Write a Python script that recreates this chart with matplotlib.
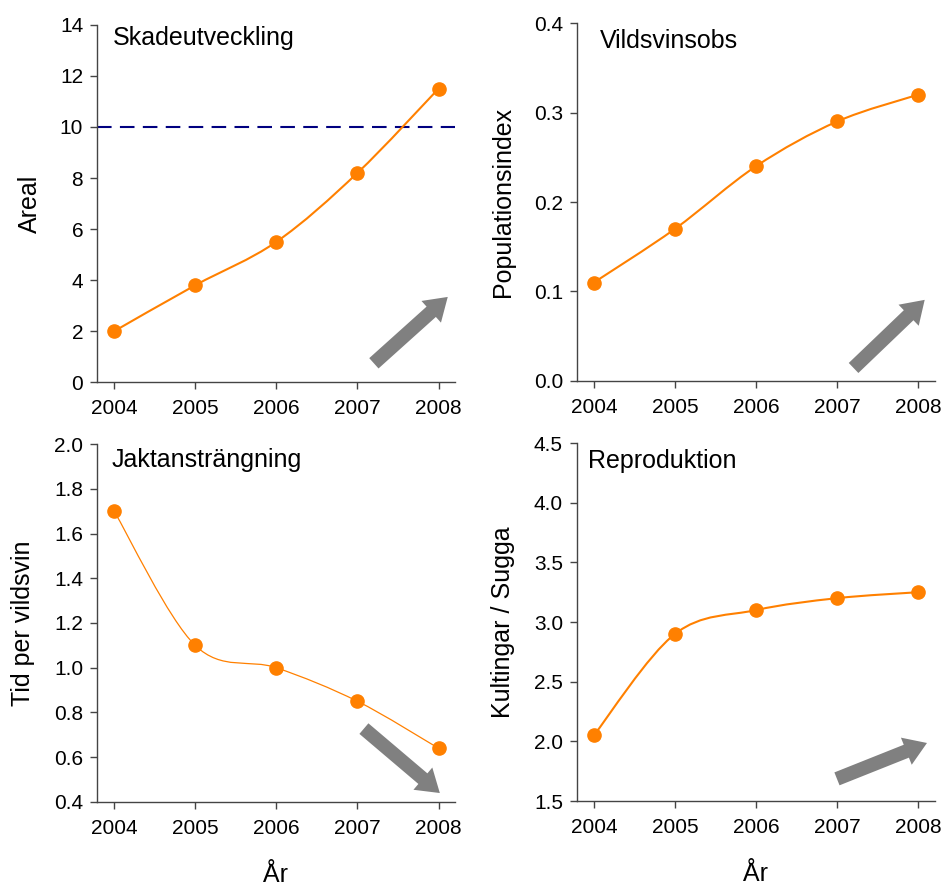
"""Vildsvin: skadeutveckling, obs, jaktansträngning och reproduktion 2004-2008."""

import matplotlib

matplotlib.use("Agg")
import matplotlib.pyplot as plt
from matplotlib.patches import FancyArrowPatch, PathPatch
from matplotlib.path import Path

years = [2004, 2005, 2006, 2007, 2008]

skada = [2.0, 3.8, 5.5, 8.2, 11.5]
skada_limit = 10
vildsvinsobs = [0.11, 0.17, 0.24, 0.29, 0.32]
jakt = [1.70, 1.10, 1.00, 0.85, 0.64]
reproduktion = [2.05, 2.90, 3.10, 3.20, 3.25]

ORANGE = "#FF8000"
GREY = "#808080"
NAVY = "#000080"

plt.rcParams["font.family"] = ["Liberation Sans", "DejaVu Sans"]


def smooth_path(xs, ys):
    """Excel-style smoothed line as cubic Bezier segments through the points."""
    pts = list(zip(xs, ys))
    n = len(pts)
    verts = [pts[0]]
    codes = [Path.MOVETO]
    for i in range(n - 1):
        p0 = pts[max(i - 1, 0)]
        p1 = pts[i]
        p2 = pts[i + 1]
        p3 = pts[min(i + 2, n - 1)]
        c1 = (p1[0] + (p2[0] - p0[0]) / 6, p1[1] + (p2[1] - p0[1]) / 6)
        c2 = (p2[0] - (p3[0] - p1[0]) / 6, p2[1] - (p3[1] - p1[1]) / 6)
        verts += [c1, c2, p2]
        codes += [Path.CURVE4] * 3
    return Path(verts, codes)


def panel(ax, values, title, title_pos, ylabel, ylim, yticks, yfmt, arrow, lw=1.5):
    ax.add_patch(
        PathPatch(smooth_path(years, values), fill=False, edgecolor=ORANGE,
                  linewidth=lw, zorder=3)
    )
    ax.plot(years, values, "o", color=ORANGE, markersize=9.5, zorder=4)

    ax.set_xlim(2003.79, 2008.2)
    ax.set_ylim(*ylim)
    ax.set_xticks(years)
    ax.set_yticks(yticks)
    ax.set_yticklabels([yfmt.format(t) for t in yticks])

    for side in ("top", "right"):
        ax.spines[side].set_visible(False)
    for side in ("left", "bottom"):
        ax.spines[side].set_color("#444444")
        ax.spines[side].set_linewidth(1.0)
    ax.tick_params(direction="out", length=5, width=1.0, color="#444444",
                   labelsize=15, pad=5)
    ax.tick_params(axis="x", pad=7)

    ax.text(*title_pos, title, transform=ax.transAxes, fontsize=18,
            ha="left", va="center")
    ax.set_ylabel(ylabel, fontsize=18)
    ax.yaxis.set_label_coords(-0.173, 0.5)

    # trend arrow (axes fraction)
    ax.add_patch(
        FancyArrowPatch(
            arrow[0], arrow[1], transform=ax.transAxes,
            arrowstyle="simple,tail_width=0.5,head_width=1.05,head_length=0.8",
            mutation_scale=20, color=GREY, linewidth=0, zorder=2,
        )
    )


fig = plt.figure(figsize=(9.44, 8.85), dpi=100)
ax_tl = fig.add_axes([0.1028, 0.568, 0.379, 0.404])
ax_tr = fig.add_axes([0.611, 0.5695, 0.379, 0.4045])
ax_bl = fig.add_axes([0.1028, 0.0938, 0.379, 0.4045])
ax_br = fig.add_axes([0.611, 0.0949, 0.379, 0.4045])

panel(ax_tl, skada, "Skadeutveckling", (0.045, 0.962), "Areal", (0, 14),
      range(0, 15, 2), "{:d}", ((0.768, 0.048), (0.986, 0.244)))
ax_tl.axhline(skada_limit, color=NAVY, linewidth=1.5, dashes=(7, 4), zorder=2)
ax_tl.yaxis.set_label_coords(-0.154, 0.5)

panel(ax_tr, vildsvinsobs, "Vildsvinsobs", (0.064, 0.95), "Populationsindex",
      (0, 0.4), [0.0, 0.1, 0.2, 0.3, 0.4], "{:.1f}",
      ((0.768, 0.031), (0.978, 0.232)))

panel(ax_bl, jakt, "Jaktansträngning", (0.04, 0.955), "Tid per vildsvin",
      (0.4, 2.0), [0.4, 0.6, 0.8, 1.0, 1.2, 1.4, 1.6, 1.8, 2.0], "{:.1f}",
      ((0.74, 0.21), (0.964, 0.02)), lw=0.9)

panel(ax_br, reproduktion, "Reproduktion", (0.03, 0.95), "Kultingar / Sugga",
      (1.5, 4.5), [1.5, 2.0, 2.5, 3.0, 3.5, 4.0, 4.5], "{:.1f}",
      ((0.72, 0.059), (0.986, 0.165)))

for ax in (ax_bl, ax_br):
    ax.set_xlabel("År", fontsize=18, labelpad=18)

fig.savefig("out.png", dpi=100)
